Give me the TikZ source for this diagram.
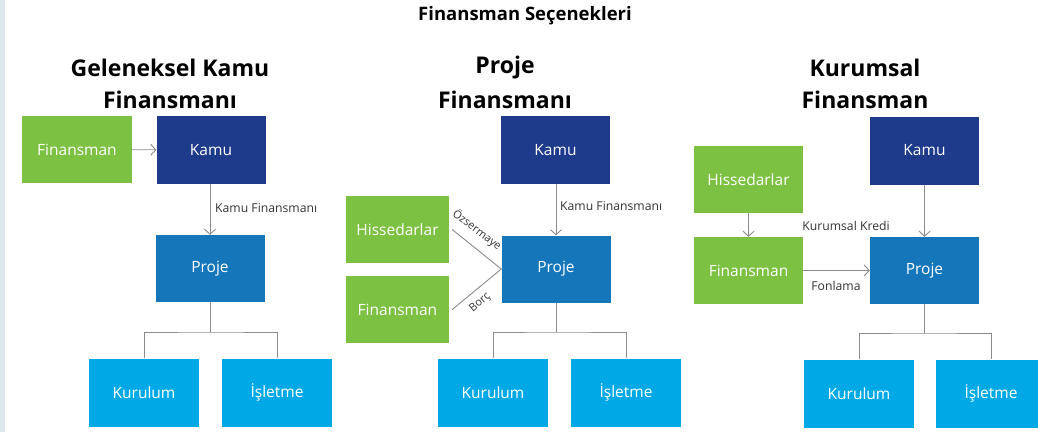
\documentclass[tikz,border=0pt]{standalone}
\usepackage{fontspec}
\setmainfont{Open Sans}
\usetikzlibrary{arrows.meta}
\definecolor{cgreen}{HTML}{7DC142}
\definecolor{cnavy}{HTML}{1D3A8B}
\definecolor{cproj}{HTML}{1577BA}
\definecolor{clight}{HTML}{00A9E5}
\definecolor{cline}{HTML}{8C8C8C}
\definecolor{cstrip}{HTML}{DDE7EF}
\definecolor{ctext}{HTML}{333333}
\tikzset{
  box/.style={rectangle, inner sep=0pt, text=white, font=\fontsize{15.5}{18}\selectfont},
  gbox/.style={box, fill=cgreen, minimum width=108pt, minimum height=67pt},
  nbox/.style={box, fill=cnavy, minimum width=109pt, minimum height=68pt},
  pbox/.style={box, fill=cproj, minimum width=109pt, minimum height=67pt},
  lbox/.style={box, fill=clight, minimum width=110pt, minimum height=68pt},
  conn/.style={draw=cline, line width=0.9pt},
  arr/.style={conn, -{Straight Barb[length=5pt,width=11pt]}},
  lbl/.style={font=\fontsize{12.2}{14}\selectfont, text=ctext, inner sep=1pt},
  slbl/.style={lbl, font=\fontsize{11}{13}\selectfont},
  ttl/.style={font=\bfseries\fontsize{23}{26}\selectfont, text=black, inner sep=0pt},
}
\begin{document}
\begin{tikzpicture}[x=1pt,y=-1pt]
\useasboundingbox (0,0) rectangle (1038,432);
\clip (0,0) rectangle (1038,432);
\fill[white] (0,0) rectangle (1038,432);
\fill[cstrip] (0,0) rectangle (5,432);

\node[font=\bfseries\fontsize{18.5}{20}\selectfont, inner sep=0pt] (top) at (525,16) {Finansman Seçenekleri};

% Left panel
\node[ttl] (t1a) at (170,68) {Geleneksel Kamu};
\node[ttl] (t1b) at (170,100) {Finansmanı};
\node[gbox, minimum width=110pt] (fin1) at (77,149.5) {Finansman};
\node[nbox] (kamu1) at (211,150) {Kamu};
\node[pbox] (proje1) at (210,268.5) {Proje};
\node[lbox] (kur1) at (144,392.5) {Kurulum};
\node[lbox] (isl1) at (277,392.5) {İşletme};
\draw[arr] (fin1) -- (kamu1);
\draw[arr] (kamu1.south -| proje1.north) -- (proje1.north);
\node[lbl, anchor=west] (k1lbl) at (214,208) {Kamu Finansmanı};
\coordinate (j1) at (210,332);
\draw[conn] (proje1.south) -- (j1);
\draw[conn] (kur1.north) |- (j1) -| (isl1.north);

% Middle panel
\node[ttl] (t2a) at (505,68) {Proje};
\node[ttl] (t2b) at (505,100) {Finansmanı};
\node[nbox] (kamu2) at (555.5,150) {Kamu};
\node[pbox] (proje2) at (556,269) {Proje};
\node[gbox, minimum width=103pt] (hiss2) at (397.5,229.5) {Hissedarlar};
\node[gbox, minimum width=103pt] (fin2) at (397.5,309.5) {Finansman};
\node[lbox] (kur2) at (493,392.5) {Kurulum};
\node[lbox] (isl2) at (626,392.5) {İşletme};
\draw[arr] (kamu2.south -| proje2.north) -- (proje2.north);
\node[lbl, anchor=west] (k2lbl) at (559,206) {Kamu Finansmanı};
\draw[conn] ([xshift=3pt]hiss2.east) -- (proje2.west);
\draw[conn] ([xshift=3pt]fin2.east) -- (proje2.west);
\node[slbl, rotate=-37] (ozlbl) at (477,230) {Özsermaye};
\node[slbl, rotate=40] (borlbl) at (480,303) {Borç};
\coordinate (j2) at (556,332);
\draw[conn] (proje2.south) -- (j2);
\draw[conn] (kur2.north) |- (j2) -| (isl2.north);

% Right panel
\node[ttl] (t3a) at (865,68) {Kurumsal};
\node[ttl] (t3b) at (865,100) {Finansman};
\node[gbox, minimum width=109pt] (hiss3) at (748.5,179.5) {Hissedarlar};
\node[gbox, minimum width=109pt] (fin3) at (748.5,270.5) {Finansman};
\node[nbox] (kamu3) at (924.5,150.5) {Kamu};
\node[pbox] (proje3) at (924.5,270.5) {Proje};
\node[lbox] (kur3) at (859,393.5) {Kurulum};
\node[lbox] (isl3) at (991,393.5) {İşletme};
\draw[arr] (hiss3) -- (fin3);
\draw[arr] (fin3) -- (proje3);
\draw[arr] (kamu3) -- (proje3);
\node[lbl] (kklbl) at (846,226) {Kurumsal Kredi};
\node[lbl] (fonlbl) at (836,286) {Fonlama};
\coordinate (j3) at (924.5,333);
\draw[conn] (proje3.south) -- (j3);
\draw[conn] (kur3.north) |- (j3) -| (isl3.north);
\end{tikzpicture}
\end{document}
